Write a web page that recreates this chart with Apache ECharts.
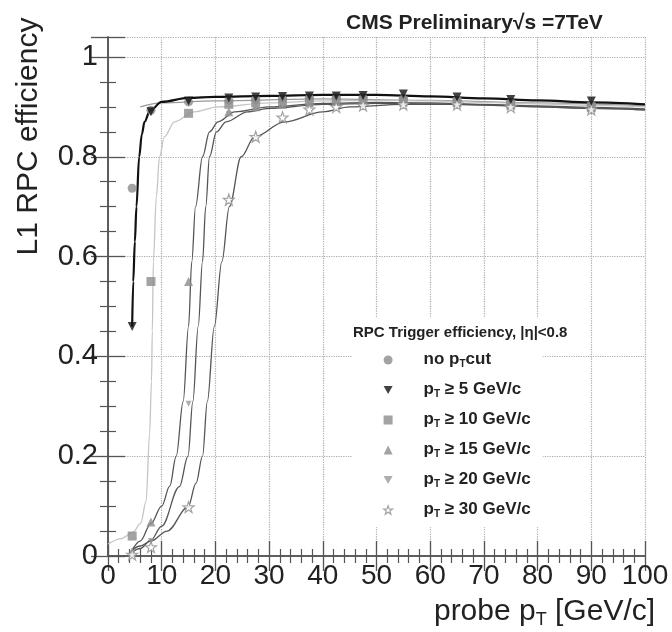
<!DOCTYPE html>
<html><head><meta charset="utf-8">
<script src="https://cdn.jsdelivr.net/npm/echarts@6/dist/echarts.min.js"></script>
<style>html,body{margin:0;padding:0;background:#fff}#c{width:672px;height:632px}</style>
</head><body><div id="c"></div>
<script>
// ---- data ----
const xBins = [4.5, 8, 15, 22.5, 27.5, 32.5, 37.5, 42.5, 47.5, 55, 65, 75, 90];
const effNoCut = [0.737, 0.893, 0.91, 0.913, 0.915, 0.916, 0.918, 0.918, 0.918, 0.916, 0.913, 0.908, 0.904];
const effPt5   = [0.46, 0.89, 0.912, 0.918, 0.92, 0.921, 0.922, 0.922, 0.923, 0.926, 0.92, 0.915, 0.912];
const effPt10  = [0.04, 0.55, 0.887, 0.905, 0.908, 0.91, 0.912, 0.913, 0.913, 0.912, 0.91, 0.905, 0.9];
const effPt15  = [0.008, 0.068, 0.55, 0.89, 0.9, 0.905, 0.908, 0.91, 0.91, 0.91, 0.908, 0.903, 0.898];
const effPt20  = [0.005, 0.03, 0.305, 0.885, 0.898, 0.903, 0.906, 0.908, 0.908, 0.908, 0.906, 0.902, 0.897];
const effPt30  = [0.003, 0.018, 0.098, 0.714, 0.84, 0.879, 0.895, 0.9, 0.903, 0.905, 0.905, 0.9, 0.895];

// fitted turn-on curves
const fitNoCut = [[6,0.9],[10,0.908],[20,0.912],[40,0.916],[60,0.913],[80,0.908],[100,0.902]];
const fitPt5  = [[4.5,0.46],[4.7,0.55],[5.0,0.63],[5.3,0.70],[5.8,0.80],[6.3,0.845],[6.8,0.87],[7.8,0.892],[10,0.91],[15,0.918],[20,0.92],[30,0.922],[40,0.924],[50,0.924],[60,0.921],[70,0.917],[80,0.913],[90,0.909],[100,0.905]];
const fitPt10 = [[0,0.024],[2.5,0.035],[4.7,0.048],[6.1,0.066],[7.1,0.11],[7.75,0.245],[8.1,0.35],[8.25,0.45],[8.45,0.59],[9.0,0.72],[9.6,0.80],[10.5,0.84],[12.4,0.87],[16,0.89],[20.5,0.9],[30,0.908],[40,0.912],[50,0.913],[60,0.912],[70,0.909],[80,0.906],[90,0.903],[100,0.9]];
const fitPt15 = [[4.5,0.012],[6,0.03],[8,0.065],[10,0.1],[11.5,0.14],[12.7,0.2],[14.0,0.31],[15.0,0.46],[15.6,0.59],[16.3,0.7],[17.6,0.8],[18.9,0.85],[20.5,0.87],[23.6,0.89],[30,0.9],[40,0.907],[50,0.909],[60,0.908],[70,0.905],[80,0.902],[90,0.899],[100,0.896]];
const fitPt20 = [[4.5,0.008],[6,0.015],[8,0.032],[10,0.06],[13.3,0.139],[14.9,0.2],[15.8,0.31],[16.8,0.46],[17.6,0.59],[18.2,0.7],[18.9,0.8],[20.2,0.85],[22,0.87],[26,0.89],[30,0.897],[40,0.905],[50,0.907],[60,0.906],[70,0.904],[80,0.9],[90,0.897],[100,0.894]];
const fitPt30 = [[4.5,0.012],[6,0.02],[8,0.03],[11,0.05],[14.9,0.098],[16.4,0.146],[17.6,0.2],[18.5,0.31],[19.8,0.46],[21.2,0.59],[22.6,0.7],[24.8,0.8],[27.3,0.84],[32.9,0.87],[40,0.89],[45,0.9],[55,0.905],[65,0.905],[75,0.902],[90,0.897],[100,0.894]];

const seriesNames = ['no pT cut','pT ≥ 5 GeV/c','pT ≥ 10 GeV/c','pT ≥ 15 GeV/c','pT ≥ 20 GeV/c','pT ≥ 30 GeV/c'];
const legendTexts = ['{b|no p}{s|T}{b|cut}','{b|p}{s|T}{b| ≥ 5 GeV/c}','{b|p}{s|T}{b| ≥ 10 GeV/c}','{b|p}{s|T}{b| ≥ 15 GeV/c}','{b|p}{s|T}{b| ≥ 20 GeV/c}','{b|p}{s|T}{b| ≥ 30 GeV/c}'];

const FONT = 'Liberation Sans';
const STAR = 'path://M0,-10 L2.35,-3.24 L9.51,-3.09 L3.8,1.23 L5.88,8.09 L0,4 L-5.88,8.09 L-3.8,1.23 L-9.51,-3.09 L-2.35,-3.24 Z';
const DOWNTRI = 'path://M-5,-4.33 L5,-4.33 L0,4.33 Z';

function pts(ys){ return xBins.map((x,i)=>[x, ys[i]]); }

const chart = echarts.init(document.getElementById('c'), null, {renderer:'canvas'});

const axisLineStyle = {color:'#555', width:1.5};
function yFmt(v){
  if (Math.abs(v*5 - Math.round(v*5)) > 1e-6) return '';
  if (Math.abs(v) < 1e-9) return '0';
  if (Math.abs(v-1) < 1e-9) return '1';
  return v.toFixed(1);
}

const lineSeries = (data, color, width, z) => ({
  type:'line', data, showSymbol:false, symbol:'none', smooth:0.35, smoothMonotone:'x',
  lineStyle:{color, width}, silent:true, z, legendHoverLink:false, xAxisIndex:0, yAxisIndex:0
});
const scatterSeries = (name, ys, symbol, color, size, extra) => Object.assign({
  type:'scatter', name, data: pts(ys), symbol, symbolSize:size,
  itemStyle:{color}, z:5, xAxisIndex:0, yAxisIndex:0
}, extra||{});

const starStyle = {color:'#fff', borderColor:'#8c8c8c', borderWidth:1.2};

chart.setOption({
  animation:false,
  backgroundColor:'#fff',
  title:{
    text:'CMS Preliminary√s =7TeV', left:341, top:8,
    textStyle:{fontFamily:FONT, fontSize:21, fontWeight:'bold', color:'#222'}
  },
  grid:{left:108, right:27, top:37, bottom:76, containLabel:false, outerBoundsMode:'none'},
  xAxis:[{
    type:'value', min:0, max:100, interval:10, position:'bottom',
    name:'{a|probe p}{s|T}{a| [GeV/c]}', nameLocation:'middle', nameGap:39,
    nameTextStyle:{padding:[0,0,0,336], rich:{
      a:{fontFamily:FONT, fontSize:30, color:'#222', lineHeight:34},
      s:{fontFamily:FONT, fontSize:18, color:'#222', lineHeight:16, verticalAlign:'bottom'}
    }},
    axisLine:{show:true, lineStyle:axisLineStyle},
    axisTick:{show:true, inside:true, length:15, lineStyle:{color:'#555', width:1.3}},
    minorTick:{show:true, splitNumber:5, length:7, lineStyle:{color:'#555', width:1.2}},
    axisLabel:{fontFamily:FONT, fontSize:28, color:'#222', margin:6},
    splitLine:{show:true, lineStyle:{type:'dotted', color:'#aaa', width:1.2}}
  },{
    type:'value', min:0, max:100, interval:10, position:'top',
    axisLine:{show:true, lineStyle:axisLineStyle},
    axisTick:{show:true, inside:true, length:15, lineStyle:{color:'#555', width:1.3}},
    minorTick:{show:true, splitNumber:5, length:7, lineStyle:{color:'#555', width:1.2}},
    axisLabel:{show:false}, splitLine:{show:false}
  }],
  yAxis:[{
    type:'value', min:0, max:1.04, interval:0.2, position:'left',
    name:'L1 RPC efficiency', nameLocation:'middle', nameGap:64, nameRotate:90,
    nameTextStyle:{fontFamily:FONT, fontSize:30, color:'#222', padding:[0,0,0,320]},
    axisLine:{show:true, lineStyle:axisLineStyle},
    axisTick:{show:true, inside:true, length:17, lineStyle:{color:'#555', width:1.3}},
    minorTick:{show:true, splitNumber:4, length:8, lineStyle:{color:'#555', width:1.2}},
    axisLabel:{fontFamily:FONT, fontSize:29, color:'#222', margin:10, formatter:yFmt},
    splitLine:{show:true, lineStyle:{type:'dotted', color:'#aaa', width:1.2}}
  },{
    type:'value', min:0, max:1.04, interval:0.2, position:'right',
    axisLine:{show:true, lineStyle:axisLineStyle},
    axisTick:{show:true, inside:true, length:17, lineStyle:{color:'#555', width:1.3}},
    minorTick:{show:true, splitNumber:4, length:8, lineStyle:{color:'#555', width:1.2}},
    axisLabel:{show:false}, splitLine:{show:false}
  }],
  legend:{
    data: seriesNames.map((n,i)=> i===5 ? {name:n, itemStyle:starStyle} : n),
    orient:'vertical', left:352, top:318,
    padding:[31,12,8,31], itemGap:10, itemWidth:9, itemHeight:9,
    backgroundColor:'#fff', borderWidth:0, selectedMode:false,
    formatter: n => legendTexts[seriesNames.indexOf(n)],
    textStyle:{padding:[0,0,0,26], rich:{
      b:{fontFamily:FONT, fontSize:17, fontWeight:'bold', color:'#222', lineHeight:18, verticalAlign:'top'},
      s:{fontFamily:FONT, fontSize:10, fontWeight:'bold', color:'#222', lineHeight:10, padding:[10,0,0,0], verticalAlign:'bottom'}
    }}
  },
  graphic:[{
    type:'text', left:353, top:325, z:100,
    style:{text:'RPC Trigger efficiency, |η|<0.8', font:'bold 15px "Liberation Sans"', fill:'#222'}
  }],
  series:[
    lineSeries(fitNoCut, '#9a9a9a', 1.2, 2),
    lineSeries(fitPt10, '#c4c4c4', 1.3, 2),
    lineSeries(fitPt15, '#555', 1.3, 3),
    lineSeries(fitPt20, '#555', 1.3, 3),
    lineSeries(fitPt30, '#555', 1.3, 3),
    lineSeries(fitPt5, '#111', 2.2, 4),
    scatterSeries(seriesNames[0], effNoCut, 'circle', '#8c8c8c', 9),
    scatterSeries(seriesNames[1], effPt5, DOWNTRI, '#111', 9, {z:6}),
    scatterSeries(seriesNames[2], effPt10, 'rect', '#8c8c8c', 9),
    scatterSeries(seriesNames[3], effPt15, 'triangle', '#8c8c8c', 9),
    scatterSeries(seriesNames[4], effPt20, DOWNTRI, '#9a9a9a', 6),
    scatterSeries(seriesNames[5], effPt30, STAR, '#fff', 11, {itemStyle:starStyle})
  ]
});
</script>
</body></html>
